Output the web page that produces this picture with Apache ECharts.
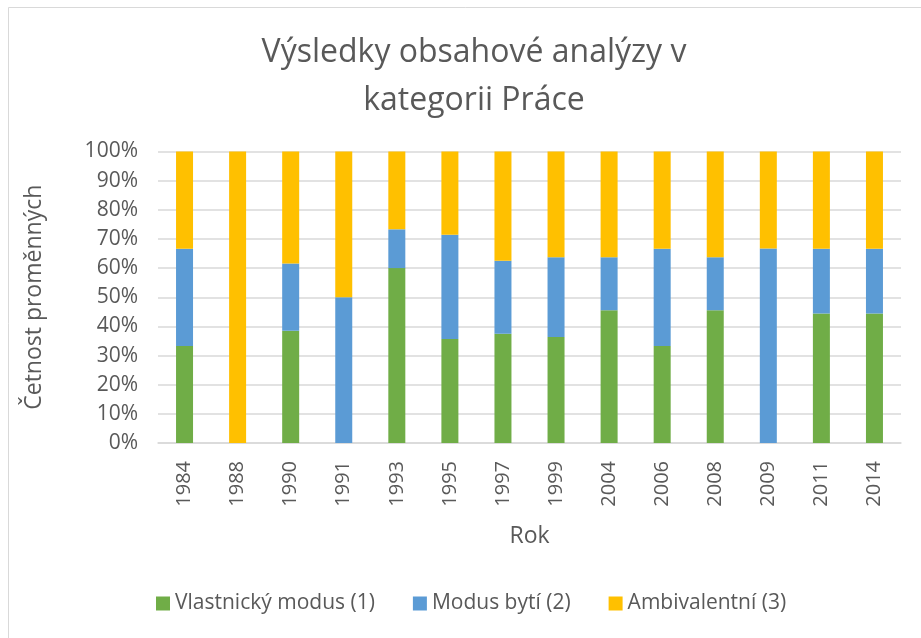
<!DOCTYPE html>
<html>
<head>
<meta charset="utf-8">
<script src="https://cdn.jsdelivr.net/npm/echarts@6/dist/echarts.min.js"></script>
<style>
  html, body { margin: 0; padding: 0; background: #fff; }
  #main { width: 921px; height: 638px; }
</style>
</head>
<body>
<div id="main"></div>
<script>
// roky a podíly jednotlivých kategorií (v %)
var years = ["1984", "1988", "1990", "1991", "1993", "1995", "1997", "1999", "2004", "2006", "2008", "2009", "2011", "2014"];
var vlastnicky = [33.3, 0, 38.5, 0, 60.0, 35.7, 37.5, 36.4, 45.5, 33.3, 45.5, 0, 44.4, 44.4];
var bytiModus = [33.3, 0, 23.1, 50.0, 13.3, 35.7, 25.0, 27.3, 18.2, 33.3, 18.2, 66.7, 22.2, 22.2];
var ambivalentni = [33.4, 100, 38.4, 50.0, 26.7, 28.6, 37.5, 36.3, 36.3, 33.4, 36.3, 33.3, 33.4, 33.4];
var yTicks = [0, 10, 20, 30, 40, 50, 60, 70, 80, 90, 100];

var font = "Open Sans";
var textColor = "#595959";

var mycharts = echarts.init(document.getElementById("main"));
var option = {
  backgroundColor: "#fff",
  textStyle: { fontFamily: font },
  title: {
    text: "Výsledky obsahové analýzy v\nkategorii Práce",
    left: 469,
    top: 24,
    textAlign: "center",
    textStyle: {
      color: textColor,
      fontWeight: "normal",
      fontSize: 32,
      lineHeight: 48,
      fontFamily: font
    }
  },
  graphic: [
    {
      type: "rect",
      shape: { x: 8.5, y: 7.5, width: 1000, height: 1000 },
      style: { fill: "none", stroke: "#d9d9d9", lineWidth: 1 },
      silent: true
    }
  ],
  legend: {
    bottom: 19,
    left: 151,
    itemWidth: 14,
    itemHeight: 14,
    itemGap: 38,
    icon: "rect",
    textStyle: { color: textColor, fontSize: 21, fontFamily: font },
    data: ["Vlastnický modus (1)", "Modus bytí (2)", "Ambivalentní (3)"]
  },
  grid: {
    left: 158,
    right: 20,
    top: 151.5,
    bottom: 195
  },
  xAxis: {
    type: "category",
    data: years,
    name: "Rok",
    nameLocation: "middle",
    nameGap: 82,
    nameTextStyle: { color: textColor, fontSize: 23, fontFamily: font },
    axisTick: { show: false },
    axisLine: { lineStyle: { color: "#d9d9d9", width: 1.5 } },
    axisLabel: {
      rotate: 90,
      interval: 0,
      margin: 18,
      color: textColor,
      fontSize: 20,
      fontFamily: font
    }
  },
  yAxis: {
    type: "value",
    min: yTicks[0],
    max: yTicks[yTicks.length - 1],
    interval: 10,
    name: "Četnost proměnných",
    nameLocation: "middle",
    nameGap: 112,
    nameTextStyle: { color: textColor, fontSize: 23, fontFamily: font },
    axisLine: { show: false },
    axisTick: { show: false },
    axisLabel: {
      color: textColor,
      fontSize: 21,
      margin: 20,
      fontFamily: font,
      formatter: function (v) { return v + "%"; }
    },
    splitLine: { lineStyle: { color: "#d9d9d9", width: 1.5 } }
  },
  series: [
    {
      name: "Vlastnický modus (1)",
      type: "bar",
      stack: "all",
      barWidth: 17,
      itemStyle: { color: "#70ad47" },
      data: vlastnicky
    },
    {
      name: "Modus bytí (2)",
      type: "bar",
      stack: "all",
      barWidth: 17,
      itemStyle: { color: "#5b9bd5" },
      data: bytiModus
    },
    {
      name: "Ambivalentní (3)",
      type: "bar",
      stack: "all",
      barWidth: 17,
      itemStyle: { color: "#ffc000" },
      data: ambivalentni
    }
  ]
};
mycharts.setOption(option);
</script>
</body>
</html>
